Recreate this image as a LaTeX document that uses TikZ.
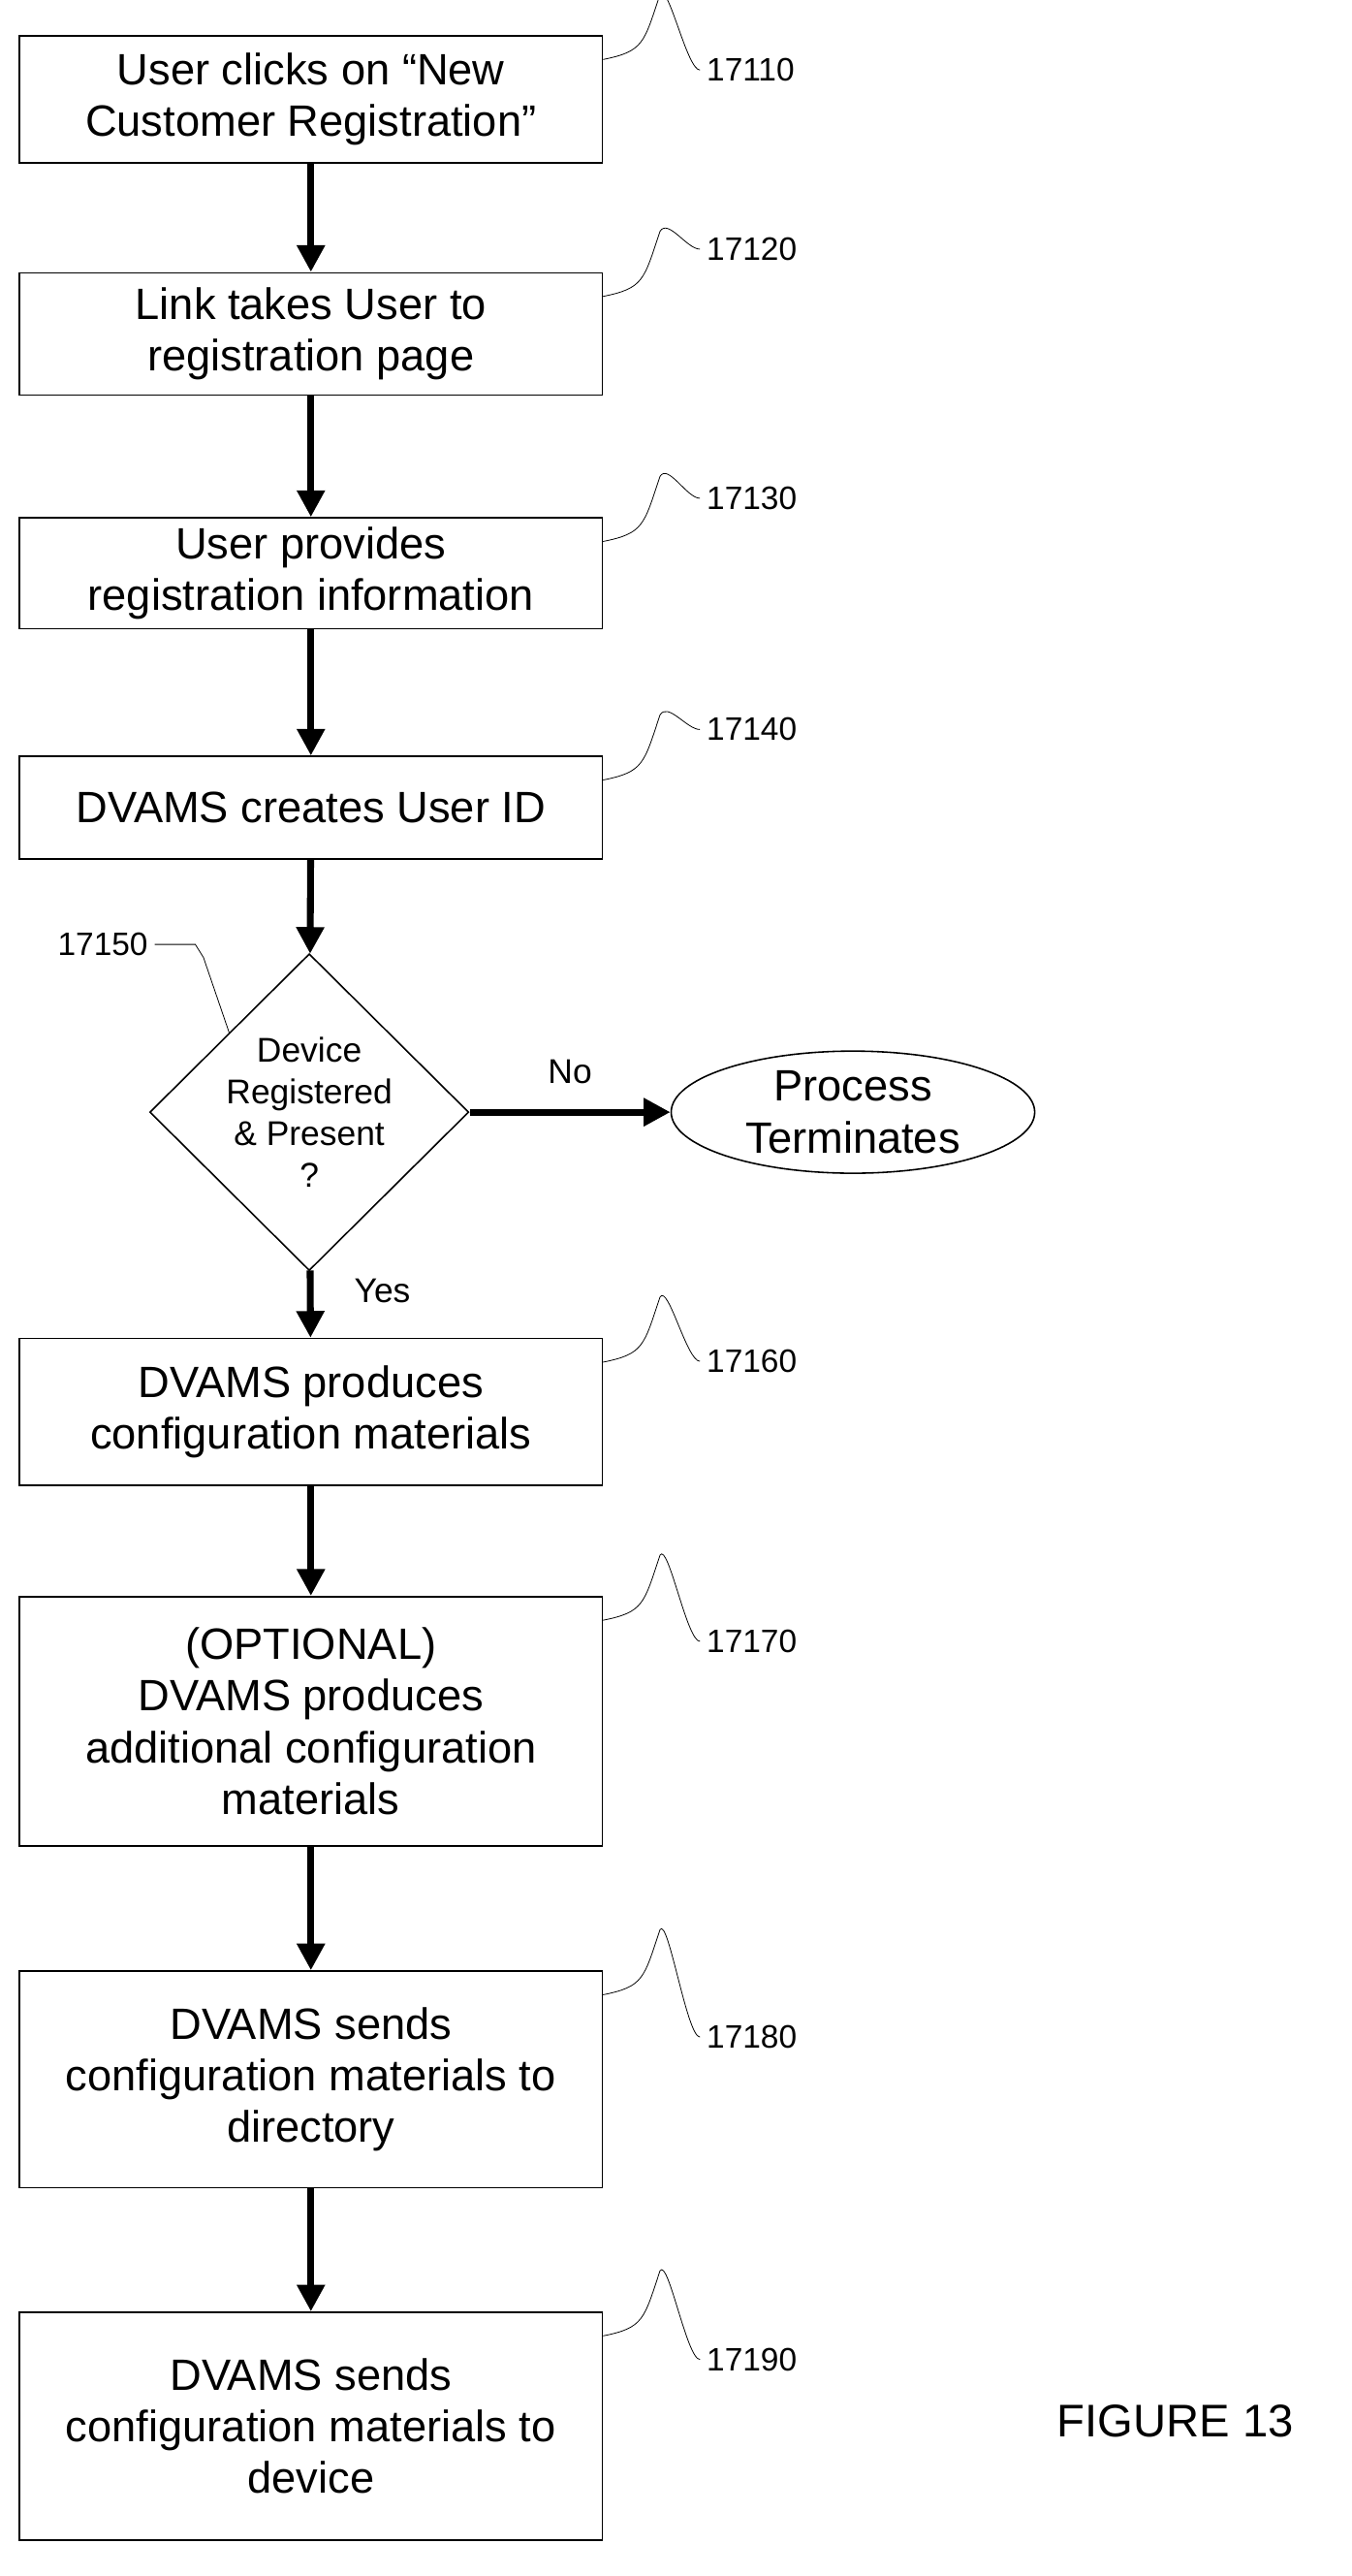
\documentclass[tikz,border=0pt]{standalone}
\usepackage{fontspec}
\setmainfont{Liberation Sans}
\usetikzlibrary{arrows.meta,shapes.geometric}

\begin{document}
\begin{tikzpicture}[x=0.03cm,y=-0.03cm,
    stepbox/.style={draw,thick,minimum width=10.74cm,align=center,font=\fontsize{23}{27}\selectfont},
    flow/.style={line width=3.6pt,-{Triangle[length=14pt,width=14pt]}},
    ref/.style={font=\fontsize{17}{20}\selectfont,anchor=west},
    hook/.style={thin}]
  \useasboundingbox (0,0) rectangle (830,1582);
  % steps
  \node[stepbox,minimum height=2.34cm] (s1) at (191,61) {User clicks on “New\\Customer Registration”};
  \node[stepbox,minimum height=2.25cm] (s2) at (191,205) {Link takes User to\\registration page};
  \node[stepbox,minimum height=2.04cm] (s3) at (191,352) {User provides\\registration information};
  \node[stepbox,minimum height=1.89cm] (s4) at (191,496) {DVAMS creates User ID};
  \node[draw,thick,diamond,minimum width=5.88cm,minimum height=5.73cm,inner sep=0pt,align=center,
        font=\fontsize{18}{22}\selectfont] (q) at (190,683) {Device\\Registered\\\& Present\\?};
  \node[draw,thick,ellipse,minimum width=6.7cm,minimum height=2.25cm,inner sep=0pt,align=center,
        font=\fontsize{23}{27}\selectfont] (end) at (524,683) {Process\\Terminates};
  \node[stepbox,minimum height=2.7cm] (s5) at (191,867) {DVAMS produces\\configuration materials};
  \node[stepbox,minimum height=4.59cm] (s6) at (191,1057) {(OPTIONAL)\\DVAMS produces\\additional configuration\\materials};
  \node[stepbox,minimum height=3.99cm] (s7) at (191,1277) {DVAMS sends\\configuration materials to\\directory};
  \node[stepbox,minimum height=4.2cm] (s8) at (191,1490) {DVAMS sends\\configuration materials to\\device};

  % connectors
  \draw[flow] (s1) -- (s2);
  \draw[flow] (s2) -- (s3);
  \draw[flow] (s3) -- (s4);
  \draw[flow] (s4) -- (q);
  \draw[flow] (q) -- node[above=10pt,font=\fontsize{18}{22}\selectfont] {No} (end);
  \draw[flow] (q) -- node[right=18pt,pos=0.3,font=\fontsize{18}{22}\selectfont] {Yes} (s5);
  \draw[flow] (s5) -- (s6);
  \draw[flow] (s6) -- (s7);
  \draw[flow] (s7) -- (s8);

  % reference numerals
  \foreach \s/\n/\y in {s1/17110/43,s2/17120/153,s3/17130/306,s4/17140/448,
                        s5/17160/836,s6/17170/1008,s7/17180/1251,s8/17190/1449}{
    \node[ref] (r\n) at (430,\y) {\n};
    \draw[hook] ([yshift=-0.45cm]\s.north east) coordinate (h\n)
      .. controls ++(25,-5) and ++(-10,30) .. ++(35,-40)
      .. controls ++(5,-8) and ++(-8,0) .. (r\n.west);
  }
  \node[ref,anchor=east] (r17150) at (95,580) {17150};
  \draw[hook] (r17150.east) -- ++(25,0) -- ++(5,8) -- (q.north west);

  \node[font=\fontsize{24}{28}\selectfont] (fig) at (722,1487) {FIGURE 13};
\end{tikzpicture}
\end{document}
